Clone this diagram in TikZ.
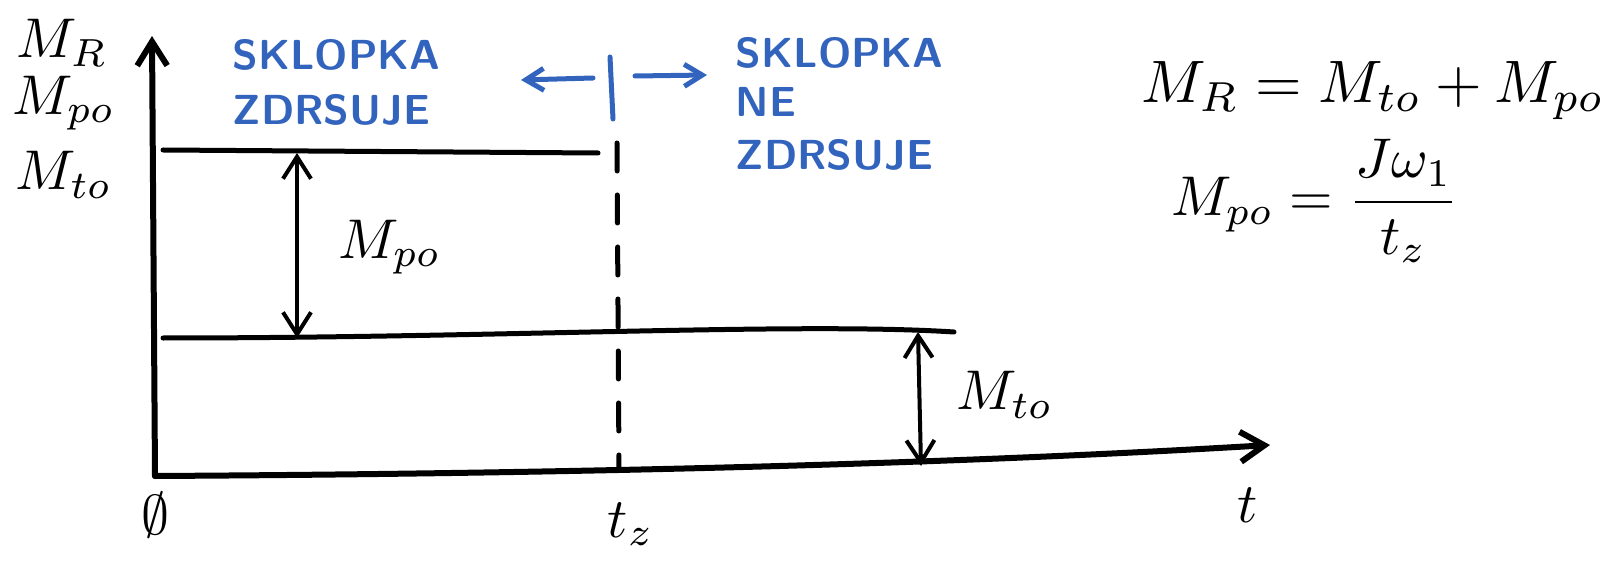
\documentclass[tikz,border=0pt]{standalone}
\usepackage{amsmath}
\usetikzlibrary{arrows.meta}
\definecolor{inkblue}{RGB}{50,100,190}

\tikzstyle{every node}=[inner sep=0pt]
\tikzstyle{axis} = [line width=3pt,line cap=round,-{Straight Barb[length=12pt,width=15pt,line width=3pt]}]
\tikzstyle{hline} = [line width=2.5pt,line cap=round]
\tikzstyle{dimline} = [line width=2pt,line cap=round,{Straight Barb[length=11pt,width=14pt]}-{Straight Barb[length=11pt,width=14pt]}]
\tikzstyle{sym} = [scale=2.8]
\tikzstyle{note} = [text=inkblue,font=\sffamily\bfseries,scale=2.1,anchor=west]
\tikzstyle{bluearrow} = [inkblue,line width=2.5pt,line cap=round,-{Straight Barb[length=9pt,width=11pt]}]

\begin{document}
\begin{tikzpicture}[x=0.5pt,y=-0.5pt]
	\useasboundingbox (0,0) rectangle (1617,561);
	% axes
	\coordinate (O) at (155,476);
	\coordinate (ytop) at (152,36);
	\coordinate (xend) at (1270,445);
	\draw[axis] (O) -- (ytop);
	\draw[axis] (O) .. controls (500,474) and (900,467) .. (xend);
	% levels
	\coordinate (mr-a) at (163,150);
	\coordinate (mr-b) at (598,153);
	\coordinate (mt-a) at (163,338);
	\coordinate (mt-b) at (954,332);
	\draw[hline] (mr-a) -- (mr-b);
	\draw[hline] (mt-a) .. controls (500,338) and (800,322) .. (mt-b);
	\coordinate (po-top) at (297,153);
	\coordinate (po-bot) at (297,338);
	\coordinate (to-top) at (918,332);
	\coordinate (to-bot) at (921,466);
	\draw[dimline] (po-top) -- (po-bot);
	\draw[dimline] (to-top) -- (to-bot);
	\coordinate (tz-top) at (617,143);
	\coordinate (tz-bot) at (619,469);
	\draw[hline,dash pattern=on 14pt off 12pt] (tz-top) -- (tz-bot);
	% blue marks
	\coordinate (sep-top) at (610,57);
	\coordinate (sep-bot) at (613,119);
	\coordinate (la-s) at (593,78);
	\coordinate (la-e) at (521,80);
	\coordinate (ra-s) at (635,76);
	\coordinate (ra-e) at (707,75);
	\draw[bluearrow,-] (sep-top) -- (sep-bot);
	\draw[bluearrow] (la-s) -- (la-e);
	\draw[bluearrow] (ra-s) -- (ra-e);
	\node[note] (slip1) at (232,55) {SKLOPKA};
	\node[note] (slip2) at (232,110) {ZDRSUJE};
	\node[note] (grip1) at (735,53) {SKLOPKA};
	\node[note] (grip2) at (735,102) {NE};
	\node[note] (grip3) at (735,155) {ZDRSUJE};
	% labels
	\node[sym] (mr) at (62,43) {$M_R$};
	\node[sym] (mpo) at (64,103) {$M_{po}$};
	\node[sym] (mto) at (64,175) {$M_{to}$};
	\node[sym] (zero) at (155,515) {$\emptyset$};
	\node[sym] (tz) at (631,524) {$t_z$};
	\node[sym] (t) at (1248,505) {$t$};
	\node[sym] (pol) at (390,247) {$M_{po}$};
	\node[sym] (tol) at (1005,395) {$M_{to}$};
	\node[sym,scale=1.07] (eq1) at (1373,91) {$M_R = M_{to} + M_{po}$};
	\node[sym] (eq2) at (1315,201) {$M_{po} = \dfrac{J\omega_1}{t_z}$};
\end{tikzpicture}
\end{document}
